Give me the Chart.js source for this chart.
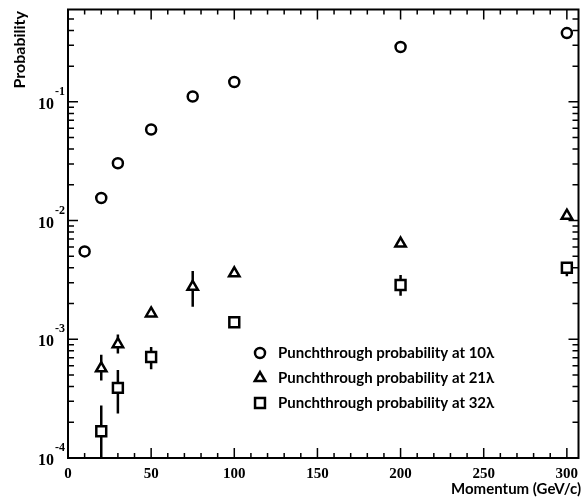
<!DOCTYPE html>
<html>
<head>
<meta charset="utf-8">
<script src="https://cdn.jsdelivr.net/npm/chart.js@4.4.1/dist/chart.umd.min.js"></script>
<style>
  html,body{margin:0;padding:0;background:#fff;}
  #wrap{width:588px;height:499px;}
</style>
</head>
<body>
<div id="wrap"><canvas id="chart" width="588" height="499"></canvas></div>
<script>
// ----- Datos -----
const xTicks = [0, 50, 100, 150, 200, 250, 300];
const yDecades = [1e-4, 1e-3, 1e-2, 1e-1];
const yExp = ['-4', '-3', '-2', '-1'];

const mom10 = [10, 20, 30, 50, 75, 100, 200, 300];
const prob10 = [0.0055, 0.0155, 0.0304, 0.0585, 0.111, 0.147, 0.29, 0.38];

const mom21 = [20, 30, 50, 75, 100, 200, 300];
const prob21 = [5.7e-4, 9.1e-4, 1.65e-3, 2.77e-3, 3.6e-3, 6.4e-3, 0.011];
const lo21 = [4.5e-4, 7.6e-4, 1.55e-3, 1.88e-3, 3.4e-3, 6.1e-3, 0.0105];
const hi21 = [7.4e-4, 1.1e-3, 1.75e-3, 3.76e-3, 3.8e-3, 6.7e-3, 0.0115];

const mom32 = [20, 30, 50, 100, 200, 300];
const prob32 = [1.68e-4, 3.9e-4, 7.1e-4, 1.39e-3, 2.87e-3, 4.0e-3];
const lo32 = [0.8e-4, 2.37e-4, 5.6e-4, 1.3e-3, 2.33e-3, 3.4e-3];
const hi32 = [2.77e-4, 5.5e-4, 8.6e-4, 1.5e-3, 3.48e-3, 4.47e-3];

const labels = [
  'Punchthrough probability at 10λ',
  'Punchthrough probability at 21λ',
  'Punchthrough probability at 32λ'
];

const toPts = (xs, ys) => xs.map((x, i) => ({ x: x, y: ys[i] }));

// ----- Barras de error -----
const errorBars = {
  id: 'errorBars',
  beforeDatasetsDraw(chart){
    const { ctx, chartArea, scales } = chart;
    ctx.save();
    ctx.beginPath();
    ctx.rect(chartArea.left, chartArea.top, chartArea.right - chartArea.left, chartArea.bottom - chartArea.top);
    ctx.clip();
    ctx.strokeStyle = '#000';
    ctx.lineWidth = 2.5;
    const sets = [[mom21, lo21, hi21], [mom32, lo32, hi32]];
    sets.forEach(([xs, lo, hi]) => {
      xs.forEach((x, i) => {
        const px = scales.x.getPixelForValue(x);
        ctx.beginPath();
        ctx.moveTo(px, scales.y.getPixelForValue(lo[i]));
        ctx.lineTo(px, scales.y.getPixelForValue(hi[i]));
        ctx.stroke();
      });
    });
    ctx.restore();
  }
};

// ----- Marco, marcas, etiquetas y leyenda -----
const frame = {
  id: 'frame',
  afterDraw(chart){
    const { ctx, chartArea: a, scales } = chart;
    const sx = scales.x, sy = scales.y;
    ctx.save();
    ctx.strokeStyle = '#000';
    ctx.lineWidth = 2;
    ctx.strokeRect(a.left, a.top, a.right - a.left, a.bottom - a.top);

    ctx.lineWidth = 1.5;
    ctx.beginPath();
    for (let v = 0; v <= 300; v += 10) {
      const px = sx.getPixelForValue(v);
      const len = v % 50 === 0 ? 10 : 5;
      ctx.moveTo(px, a.bottom); ctx.lineTo(px, a.bottom - len);
      ctx.moveTo(px, a.top); ctx.lineTo(px, a.top + len);
    }
    yDecades.concat([1]).forEach(d => {
      for (let m = 1; m <= 9; m++) {
        const v = d * m;
        if (v < sy.min || v > sy.max) continue;
        const py = sy.getPixelForValue(v);
        const len = m === 1 ? 10 : 6;
        ctx.moveTo(a.left, py); ctx.lineTo(a.left + len, py);
        ctx.moveTo(a.right, py); ctx.lineTo(a.right - len, py);
      }
    });
    ctx.stroke();

    // etiquetas del eje Y: 10 con exponente
    ctx.fillStyle = '#000';
    yDecades.forEach((d, i) => {
      const py = sy.getPixelForValue(d);
      ctx.font = 'bold 16px "Liberation Serif"';
      ctx.textAlign = 'right';
      ctx.textBaseline = 'middle';
      ctx.fillText('10', 54, py + 3);
      ctx.font = 'bold 12px "Liberation Serif"';
      ctx.textAlign = 'left';
      ctx.fillText(yExp[i], 55, py - 10);
    });

    // títulos de ejes
    ctx.font = 'bold 15px Lato';
    ctx.textAlign = 'right';
    ctx.textBaseline = 'middle';
    ctx.fillText('Momentum (GeV/c)', 581, 489);
    ctx.save();
    ctx.translate(20, 11);
    ctx.rotate(-Math.PI / 2);
    ctx.font = 'bold 16px Lato';
    ctx.textAlign = 'right';
    ctx.fillText('Probability', 0, 0);
    ctx.restore();

    // leyenda
    const rows = [353, 378, 403];
    const styles = ['circle', 'triangle', 'rect'];
    const radii = [5, 6, 7];
    rows.forEach((ry, i) => {
      ctx.lineWidth = 2.5;
      ctx.strokeStyle = '#000';
      ctx.fillStyle = '#fff';
      Chart.helpers.drawPoint(ctx, { pointStyle: styles[i], radius: radii[i], borderWidth: 2.5 }, 260, ry);
      ctx.fillStyle = '#000';
      ctx.font = 'bold 15px Lato';
      ctx.textAlign = 'left';
      ctx.textBaseline = 'middle';
      ctx.fillText(labels[i], 278, ry);
    });
    ctx.restore();
  }
};

new Chart(document.getElementById('chart'), {
  type: 'scatter',
  data: {
    datasets: [
      { label: labels[0], data: toPts(mom10, prob10), pointStyle: 'circle', pointRadius: 5,
        borderColor: '#000', backgroundColor: '#fff', borderWidth: 2.5 },
      { label: labels[1], data: toPts(mom21, prob21), pointStyle: 'triangle', pointRadius: 6,
        borderColor: '#000', backgroundColor: '#fff', borderWidth: 2.5 },
      { label: labels[2], data: toPts(mom32, prob32), pointStyle: 'rect', pointRadius: 7,
        borderColor: '#000', backgroundColor: '#fff', borderWidth: 2.5 }
    ]
  },
  options: {
    responsive: false,
    animation: false,
    layout: { padding: { top: 5, right: 8, left: 0, bottom: 0 } },
    plugins: { legend: { display: false }, tooltip: { enabled: false } },
    scales: {
      x: {
        type: 'linear', min: 0, max: 307,
        grid: { display: false, drawTicks: false }, border: { display: false },
        afterBuildTicks: s => { s.ticks = xTicks.map(v => ({ value: v })); },
        afterFit: s => { s.height = 41; },
        ticks: { color: '#000', padding: 7, maxRotation: 0,
          font: { family: 'Liberation Serif', weight: 'bold', size: 15 } }
      },
      y: {
        type: 'logarithmic', min: 1e-4, max: 0.6,
        grid: { display: false }, border: { display: false },
        ticks: { display: false },
        afterFit: s => { s.width = 68; }
      }
    }
  },
  plugins: [errorBars, frame]
});
</script>
</body>
</html>
